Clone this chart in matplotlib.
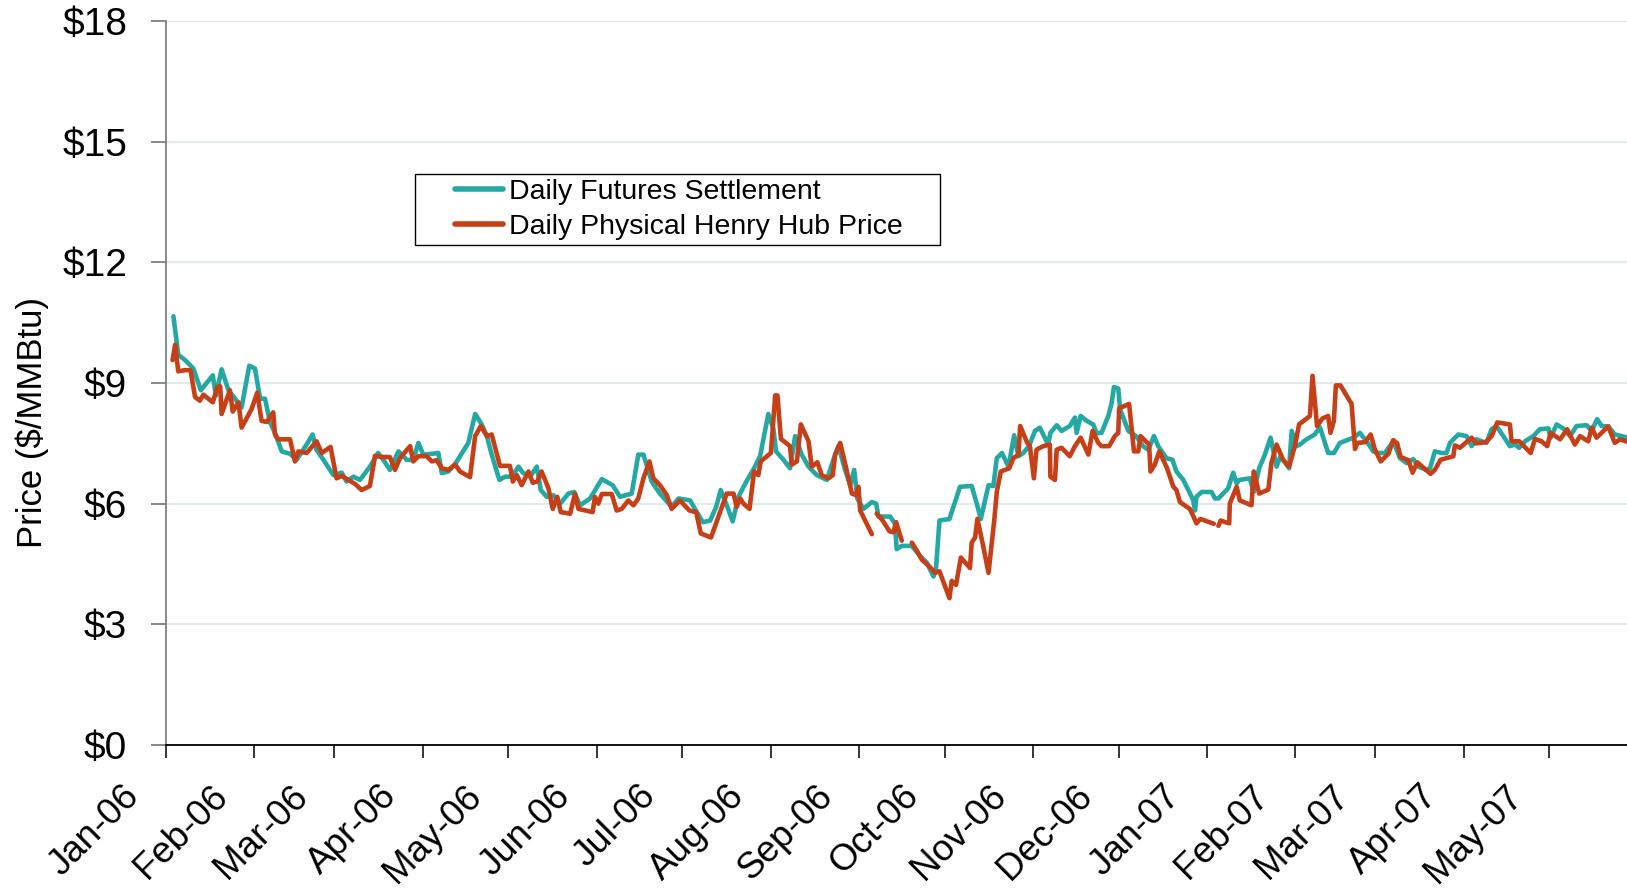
import numpy as np
import matplotlib
matplotlib.use("Agg")
import matplotlib.pyplot as plt
import matplotlib.dates as mdates
from matplotlib.patches import Rectangle
from matplotlib.transforms import ScaledTranslation
from datetime import datetime

plt.rcParams['font.family'] = ['Liberation Sans', 'DejaVu Sans']

# ---- data (days after 2006-01-01, $/MMBtu) ----
fut_day = [2.6, 4.3, 6.7, 9.6, 12.2, 16.4, 17.5, 19.5, 21.9, 24.2, 26.5, 29.2, 31.2, 33, 34.7,
           36.5, 38.2, 40.6, 43.5, 45.8, 49.3, 51.4, 52.8, 55.2, 58.7, 61.6, 63.3, 65.7, 68,
           71.5, 74.4, 76.2, 78.5, 81.5, 84.4, 86.7, 88.5, 90.2, 93.2, 95.5, 96.7, 99, 101.6,
           106, 108.4, 110.7, 112.5, 114.2, 116.9, 118.9, 121.2, 123.6, 125.1, 127.7, 130,
           131.4, 133.5, 135.8, 138.2, 141.1, 143.1, 145.2, 148.7, 152.8, 156.6, 159.2, 163.3,
           165.6, 167.4, 170.3, 173.2, 177.3, 179.7, 183.8, 186.1, 188.2, 190.8, 192.9, 194.5,
           196.6, 198.7, 200.7, 203.5, 206.2, 208.3, 211.2, 213, 213.9, 216.5, 218.8, 220.6,
           222.9, 225.3, 228.2, 231.7, 234, 235.8, 238.1, 239.9, 241.3, 242.4, 244.5, 247.5,
           249, 249.8, 253.9, 255.6, 256.2, 258, 261.5, 264.4, 266.8, 269.1, 270, 271.2, 274.7,
           278.4, 282.5, 284.3, 285.7, 288.4, 290.1, 291.3, 293.1, 295.4, 297.4, 298.9, 300.6,
           302.6, 304.7, 306.4, 309.3, 310.1, 312.3, 314, 316.9, 318.7, 319.3, 320.7, 322.8,
           325.1, 326.3, 328, 330.4, 331.5, 332.4, 333.9, 334.5, 337.4, 340.1, 342.6, 344.4,
           346.4, 347.9, 350.8, 352.9, 354.3, 356.7, 358.8, 360.2, 360.8, 361.3, 363.1, 366.6,
           367.8, 369, 372.4, 374.2, 375.4, 376.3, 380, 381.4, 383.3, 385.3, 387.3, 389.4,
           390.8, 393.8, 394.7, 396.4, 397.6, 399.9, 402.8, 404.6, 407.5, 409.5, 411.6, 416.3,
           418.6, 421, 423.3, 425.1, 427.4, 430.3, 432.7, 435, 437.3, 439.1, 442, 443.2, 444.9,
           447.3, 449, 450.2, 453.1, 456, 457.8, 459.5, 463, 464.8, 466.5, 468.9, 471.2, 473,
           474.5, 476.5, 479.4, 481.7, 484.7, 485.5, 487.6, 489.9, 492.3, 494.6, 498.1, 499.9,
           501.8, 503.4, 505.7, 508, 510.4, 513.5]
fut_price = [10.66, 9.70, 9.57, 9.36, 8.82, 9.19, 8.69, 9.34, 8.82, 8.61, 8.39, 9.43, 9.36, 8.61, 8.61,
             8.02, 7.76, 7.30, 7.24, 7.09, 7.47, 7.72, 7.34, 7.09, 6.71, 6.77, 6.55, 6.67, 6.59,
             6.92, 7.26, 7.09, 6.84, 7.30, 7.09, 7.09, 7.51, 7.22, 7.24, 7.26, 6.76, 6.80, 7.01,
             7.51, 8.23, 7.97, 7.68, 7.22, 6.59, 6.67, 6.67, 6.92, 6.77, 6.67, 6.92,
             6.34, 6.17, 6.21, 6.00, 6.25, 6.29, 5.96, 6.13, 6.61, 6.46, 6.17, 6.25,
             7.22, 7.22, 6.55, 6.25, 5.92, 6.13, 6.08, 5.79, 5.54, 5.58, 5.92, 6.34,
             5.96, 5.56, 6.17, 6.55, 6.88, 7.18, 8.23, 7.85, 7.30, 7.09, 6.88, 7.68,
             7.22, 6.92, 6.71, 6.59, 7.09, 7.43, 6.84, 6.46, 6.84, 6.13, 5.87, 6.04,
             6.00, 5.68, 5.68, 5.50, 4.87, 4.95, 4.95, 4.70, 4.53, 4.19, 4.40, 5.58, 5.62,
             6.42, 6.44, 6.00, 5.62, 6.46, 6.44, 7.13, 7.26, 6.92, 7.70, 7.18, 7.26,
             7.43, 7.81, 7.89, 7.47, 7.76, 7.95, 7.81, 7.93, 8.14, 7.76, 8.18, 8.06,
             7.97, 7.75, 7.76, 8.18, 8.48, 8.90, 8.86, 8.35, 7.81, 7.68, 7.43, 7.34,
             7.68, 7.43, 7.13, 7.09, 6.80, 6.59, 6.29, 6.08, 5.83, 6.17, 6.29, 6.29,
             6.13, 6.13, 6.38, 6.77, 6.50, 6.59, 6.63, 6.29, 6.88, 7.22, 7.64, 6.92,
             7.18, 6.88, 7.81, 7.43, 7.47, 7.60, 7.72, 7.90, 7.26, 7.26, 7.51, 7.64,
             7.76, 7.55, 7.30, 7.26, 7.26, 7.55, 7.13, 7.01, 7.11, 6.92, 6.84, 6.88, 7.30,
             7.26, 7.26, 7.51, 7.72, 7.68, 7.43, 7.60, 7.51, 7.85, 7.93, 7.68, 7.43, 7.47,
             7.39, 7.55, 7.68, 7.85, 7.87, 7.64, 7.97, 7.87, 7.68, 7.93, 7.95, 7.81,
             8.10, 7.93, 7.92, 7.72, 7.68, 7.62]

phys_day = [2.3, 3.2, 4.3, 6.7, 8.6, 10.2, 11.9, 13.1, 16.4, 18, 19, 19.5, 22.4, 23.4, 25.4, 25.9,
            26.5, 30, 32, 33.5, 35.3, 37.6, 38.2, 39.4, 41.1, 43.5, 45.2, 46.4, 49.3, 52.8, 54.6,
            57.7, 59.8, 61.6, 63.9, 66.3, 68.6, 71.5, 73.3, 75.6, 78.5, 80.3, 82, 85.6, 86.7,
            88.5, 91.4, 93.2, 94.9, 96.7, 99, 101.4, 103.1, 106.6, 108.4, 110.4, 112.5, 114.2,
            117.1, 120.6, 121.6, 123, 124.7, 127.1, 128.6, 130.2, 131.7, 134.1, 135.6, 137.2,
            138.4, 141.7, 143.4, 144.6, 149.6, 150.4, 151.6, 152.8, 156.3, 158, 159.8, 162.1,
            163.9, 165.6, 167.4, 169.5, 170.9, 173.2, 175.6, 177.3, 180.2, 183.5, 185.9, 187.5,
            191.1, 194.3, 196.6, 199, 200.1, 201.3, 202.5, 204.6, 206.2, 207.7, 208.5, 212.1,
            213.6, 214.4, 215.6, 218.8, 219.4, 221.2, 222.6, 225.3, 226.4, 228.4, 229.9, 232.3,
            233.8, 234.6, 236.4, 238.5, 240.5, 242, 242.8, 243.4, 245.7, 247.5, 248.3, 249.2,
            251.3, 253.7, 255.1, 256, 258, 259.7, 261.5, 263.2, 265, 267.9, 269.7, 271.2, 274.7,
            275.5, 277, 278.7, 281.9, 282.5, 283.7, 284.5, 286.4, 288.4, 290.4, 291.3, 292.7,
            295.7, 297.1, 298.9, 299.5, 302, 302.9, 304.3, 305.2, 307.6, 309.9, 310.1, 311.7,
            312.3, 314, 316.9, 318.7, 320.7, 323.4, 324.9, 326.9, 328, 330.7, 332.7, 333.9,
            334.2, 337.7, 339.4, 340.9, 341.7, 344.7, 345.2, 346.7, 348.3, 351, 353.2, 354.3,
            355.5, 359, 360.4, 361.3, 362.7, 367.4, 368.2, 369, 369.8, 372.8, 373, 375.4, 376.5,
            380.6, 381.4, 383.3, 386.5, 387.6, 389.4, 391.7, 393.8, 395.8, 397.3, 401.1, 402,
            403.6, 405.5, 407.5, 408.3, 409.5, 410.2, 411.8, 415.7, 416.9, 417.7, 420.4, 422.4,
            423.9, 425.9, 428.6, 430.3, 431.7, 432.9, 435.6, 437.1, 438.7, 443.4, 444.9, 446.9,
            451.4, 451.9, 453.7, 457.8, 459.3, 462.8, 464.8, 466.8, 471.2, 471.8, 474.5, 478.5,
            480, 482.3, 484.3, 485.5, 488.8, 491.3, 494, 495.8, 498.7, 499.9, 501.6, 505.7, 508,
            509.8, 513.5]
phys_price = [9.57, 9.95, 9.29, 9.32, 9.32, 8.65, 8.56, 8.71, 8.52, 8.90, 8.92, 8.23, 8.82, 8.29, 8.52, 8.23,
              7.89, 8.35, 8.76, 8.06, 8.03, 8.27, 7.72, 7.60, 7.60, 7.60, 7.05, 7.30, 7.26, 7.55, 7.26,
              7.41, 6.63, 6.69, 6.59, 6.49, 6.34, 6.44, 7.19, 7.16, 7.16, 6.84, 7.13, 7.43, 7.05,
              7.18, 7.18, 7.05, 7.08, 6.88, 6.84, 6.97, 6.80, 6.66, 7.68, 7.93, 7.68, 7.72,
              6.94, 6.94, 6.55, 6.71, 6.46, 6.80, 6.52, 6.55, 6.80, 6.38, 5.87, 6.17,
              5.79, 5.75, 6.25, 5.87, 5.79, 6.17, 6.00, 6.24, 6.24, 5.83, 5.87, 6.08,
              5.96, 6.13, 6.63, 7.05, 6.63, 6.46, 6.21, 5.87, 6.08, 5.83, 5.79, 5.26,
              5.16, 5.79, 6.25, 6.25, 5.92, 6.13, 6.00, 5.87, 6.80, 6.71, 7.05, 7.26,
              8.69, 8.69, 7.61, 7.43, 6.97, 7.05, 7.97, 7.55, 6.92, 7.03, 6.71, 6.63,
              6.71, 7.22, 7.51, 6.88, 6.25, 6.21, 6.42, 5.83, 5.50, 5.24, np.nan, 5.75,
              5.58, 5.31, 5.29, 5.54, 5.08, np.nan, 5.03, 4.84, 4.61, 4.42, 4.28, 4.32, 3.65,
              4.08, 3.98, 4.66, 4.40, 5.03, 5.16, 5.62, 4.99, 4.28, 5.58, 6.29, 6.80,
              6.88, 7.13, 7.22, 7.93, 7.51, 7.43, 6.63, 7.34, 7.43, 7.47, 6.67, 6.59,
              7.34, 7.39, 7.18, 7.43, 7.64, 7.22, 7.81, 7.51, 7.43, 7.43, 7.68, 7.76,
              8.37, 8.48, 7.30, 7.30, 7.68, 7.47, 6.80, 6.97, 7.30, 6.88, 6.42, 6.34,
              6.04, 5.87, 5.66, 5.51, 5.62, 5.50, np.nan, 5.45, 5.58, 5.51, 6.00, 6.42, 6.08,
              5.96, 6.80, 6.25, 6.35, 7.01, 7.47, 7.09, 6.92, 7.43, 7.97, 8.18, 9.18,
              7.93, 8.12, 8.18, 7.76, 8.06, 8.94, 8.94, 8.48, 7.36, 7.51, 7.53, 7.72,
              7.34, 7.05, 7.24, 7.58, 7.50, 7.16, 7.08, 6.77, 7.03, 6.74, 6.84, 7.09,
              7.18, 7.45, 7.39, 7.64, 7.50, 7.53, 7.68, 8.02, 7.97, 7.55, 7.55, 7.26,
              7.61, 7.55, 7.43, 7.76, 7.60, 7.85, 7.47, 7.68, 7.55, 7.89, 7.64, 7.92, 7.51,
              7.60, 7.51]

series_labels = ["Daily Futures Settlement", "Daily Physical Henry Hub Price"]
y_ticks = [0, 3, 6, 9, 12, 15, 18]
y_label = "Price ($/MMBtu)"

# ---- figure ----
W, H = 1627, 888
fig = plt.figure(figsize=(W / 100, H / 100), dpi=100)
ax = fig.add_axes([166 / W, (H - 745) / H, (W - 166) / W, (745 - 21) / H])

base = mdates.date2num(datetime(2006, 1, 1))
fx = base + np.array(fut_day)
px = base + np.array(phys_day)

teal = '#24A8A4'
red = '#C63F17'
l1, = ax.plot(fx, fut_price, color=teal, lw=3.3, solid_joinstyle='round', solid_capstyle='round',
              label=series_labels[0], zorder=3)
l2, = ax.plot(px, phys_price, color=red, lw=3.3, solid_joinstyle='round', solid_capstyle='round',
              label=series_labels[1], zorder=4)

ax.set_xlim(base, base + (W - 166) / 2.852)
ax.set_ylim(0, 18)
ax.set_yticks(y_ticks)
ax.yaxis.set_major_formatter(plt.FuncFormatter(lambda v, p: f"${int(v)}"))
ax.xaxis.set_major_locator(mdates.MonthLocator())
ax.xaxis.set_major_formatter(mdates.DateFormatter('%b-%y'))

ax.grid(axis='y', color='#dce8ea', lw=1.2, zorder=0)
ax.set_axisbelow(True)
for s in ['top', 'right']:
    ax.spines[s].set_visible(False)
ax.spines['left'].set_color('#7f7f7f')
ax.spines['left'].set_linewidth(1.3)
ax.spines['bottom'].set_color('#000000')
ax.spines['bottom'].set_linewidth(1.3)

ax.tick_params(axis='y', direction='out', length=11, width=1.3, color='#7f7f7f',
               labelsize=28, pad=17)
ax.tick_params(axis='x', direction='out', length=9, width=1.1, color='#000000',
               labelsize=26.5, pad=15)
for lab in ax.get_xticklabels():
    lab.set_rotation(45)
    lab.set_ha('right')
    lab.set_va('top')
    lab.set_rotation_mode('anchor')
    lab.set_transform(lab.get_transform() + ScaledTranslation(-0.44, 0, fig.dpi_scale_trans))

fig.text(32 / W, 1 - 423 / H, y_label, rotation=90, ha='center', va='center', fontsize=25)

# legend
fig.patches.append(Rectangle((415 / W, 1 - 245 / H), (940 - 415) / W, (245 - 174) / H,
                             transform=fig.transFigure, fill=False, edgecolor='#000000',
                             lw=1.0, zorder=5))
leg = fig.legend(handles=[l1, l2], labels=series_labels, loc='upper left',
                 bbox_to_anchor=(455 / W, 1 - 179 / H), frameon=False, fontsize=20.5,
                 borderpad=0, borderaxespad=0, handlelength=1.7, handletextpad=0.2,
                 labelspacing=0.3)
for h in leg.legend_handles:
    h.set_linewidth(4)

fig.savefig("out.png", dpi=100)
